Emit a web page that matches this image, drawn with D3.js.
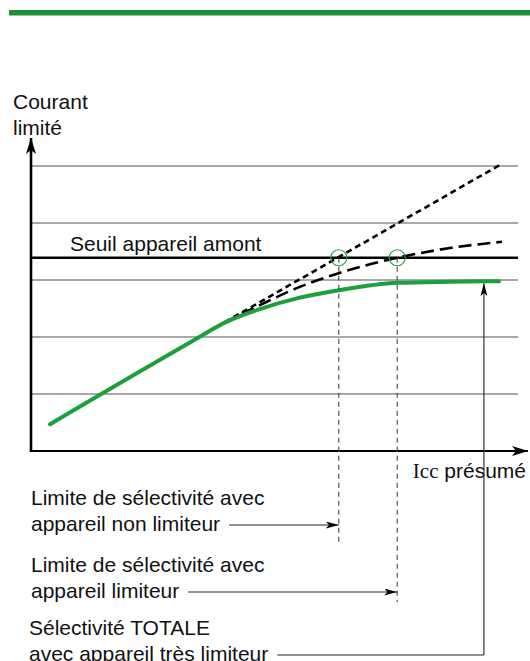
<!DOCTYPE html>
<html>
<head>
<meta charset="utf-8">
<script src="https://cdn.jsdelivr.net/npm/d3@7/dist/d3.min.js"></script>
<style>
body { margin: 0; background: #fff; }
svg text { font-family: "Liberation Sans", Arial, Helvetica, sans-serif; font-size: 21px; fill: #111; }
</style>
</head>
<body>
<div id="chart"></div>
<script>
/* data */
var gridLevels = [1, 2, 3, 4, 5];
var seuilLevel = 3.39;
var greenX = [0.39, 3.30, 4.00, 4.70, 5.52, 6.32, 7.52, 8.60, 9.61];
var greenY = [0.47, 1.92, 2.26, 2.49, 2.69, 2.82, 2.95, 2.97, 2.98];
var dashX = [3.98, 4.70, 5.52, 6.32, 7.52, 8.60, 9.67];
var dashY = [2.26, 2.56, 2.88, 3.12, 3.39, 3.56, 3.67];
var dotX = [3.98, 9.63];
var dotY = [2.26, 5.02];
var limitX = [6.32, 7.52, 9.30];
var limitLabels = [
    ["Limite de sélectivité avec", "appareil non limiteur"],
    ["Limite de sélectivité avec", "appareil limiteur"],
    ["Sélectivité TOTALE", "avec appareil très limiteur"]
];
var yTitle = ["Courant", "limité"];
var seuilLabel = "Seuil appareil amont";

var width = 530,
    height = 661,
    green = "#1ba03c";

var x = d3.scaleLinear().domain([0, 10]).range([31, 518]),
    y = d3.scaleLinear().domain([0, 5]).range([451, 166]);

var svg = d3.select("#chart").append("svg")
    .attr("width", width)
    .attr("height", height);

var defs = svg.append("defs");
function marker(id, w, h) {
    defs.append("marker")
        .attr("id", id)
        .attr("viewBox", "0 0 " + w + " " + h)
        .attr("refX", w).attr("refY", h / 2)
        .attr("markerWidth", w).attr("markerHeight", h)
        .attr("markerUnits", "userSpaceOnUse")
        .attr("orient", "auto")
        .append("path")
        .attr("d", "M0,0L" + w + "," + (h / 2) + "L0," + h + "L" + (w * 0.25) + "," + (h / 2) + "Z")
        .attr("fill", "#000");
}
marker("axisArrow", 16, 10);
marker("smallArrow", 13, 7);

// top green rule
svg.append("rect")
    .attr("x", 9).attr("y", 10)
    .attr("width", width - 9).attr("height", 5.5)
    .attr("fill", "#1f9037");

// grid
svg.selectAll("line.grid").data(gridLevels).enter().append("line")
    .attr("class", "grid")
    .attr("x1", x(0)).attr("x2", x(10))
    .attr("y1", function (d) { return y(d); })
    .attr("y2", function (d) { return y(d); })
    .attr("stroke", "#555").attr("stroke-width", 1.1);

// seuil line
svg.append("line")
    .attr("x1", x(0)).attr("x2", x(10))
    .attr("y1", y(seuilLevel)).attr("y2", y(seuilLevel))
    .attr("stroke", "#000").attr("stroke-width", 2.6);
svg.append("text")
    .attr("x", 70).attr("y", y(seuilLevel) - 7)
    .text(seuilLabel);

// axes
svg.append("line")
    .attr("x1", x(0)).attr("y1", y(0))
    .attr("x2", x(0)).attr("y2", 138)
    .attr("stroke", "#000").attr("stroke-width", 2.6)
    .attr("marker-end", "url(#axisArrow)");
svg.append("line")
    .attr("x1", x(0) - 1.3).attr("y1", y(0))
    .attr("x2", 528).attr("y2", y(0))
    .attr("stroke", "#000").attr("stroke-width", 2.2)
    .attr("marker-end", "url(#axisArrow)");

svg.append("text")
    .selectAll("tspan").data(yTitle).enter().append("tspan")
    .attr("x", 13)
    .attr("y", function (d, i) { return 109 + i * 26; })
    .text(function (d) { return d; });

var xlab = svg.append("text")
    .attr("x", 526).attr("y", 478)
    .attr("text-anchor", "end");
xlab.append("tspan")
    .style("font-family", "'Liberation Serif', 'Times New Roman', serif")
    .text("Icc");
xlab.append("tspan").text(" présumé");

// curves
var line = d3.line()
    .x(function (d) { return x(d[0]); })
    .y(function (d) { return y(d[1]); })
    .curve(d3.curveMonotoneX);

svg.append("path")
    .datum(dotX.map(function (v, i) { return [v, dotY[i]]; }))
    .attr("d", line)
    .attr("fill", "none").attr("stroke", "#000")
    .attr("stroke-width", 2.6).attr("stroke-dasharray", "6,4");

svg.append("path")
    .datum(dashX.map(function (v, i) { return [v, dashY[i]]; }))
    .attr("d", line)
    .attr("fill", "none").attr("stroke", "#000")
    .attr("stroke-width", 2.6).attr("stroke-dasharray", "13,6");

svg.append("path")
    .datum(greenX.map(function (v, i) { return [v, greenY[i]]; }))
    .attr("d", line)
    .attr("fill", "none").attr("stroke", green)
    .attr("stroke-width", 4).attr("stroke-linecap", "round");

// selectivity limits
var textBase = [505, 572, 635];
var arrowY = [525, 592, 655];
var dashBottom = [543, 602];

limitX.slice(0, 2).forEach(function (v, i) {
    svg.append("line")
        .attr("x1", x(v)).attr("x2", x(v))
        .attr("y1", y(seuilLevel)).attr("y2", dashBottom[i])
        .attr("stroke", "#555").attr("stroke-width", 1.2)
        .attr("stroke-dasharray", "5,4");
    svg.append("circle")
        .attr("cx", x(v)).attr("cy", y(seuilLevel)).attr("r", 8)
        .attr("fill", "none").attr("stroke", green).attr("stroke-width", 1.2);
});

limitLabels.forEach(function (lab, i) {
    var t = svg.append("text");
    t.selectAll("tspan").data(lab).enter().append("tspan")
        .attr("x", i == 2 ? 29 : 31)
        .attr("y", function (d, j) { return textBase[i] + j * 25.5; })
        .text(function (d) { return d; });
    var last = t.selectAll("tspan").nodes()[1];
    var start = (i == 2 ? 29 : 31) + last.getComputedTextLength() + 9;
    var l = svg.append("line")
        .attr("x1", start).attr("x2", x(limitX[i]))
        .attr("y1", arrowY[i]).attr("y2", arrowY[i])
        .attr("stroke", "#222").attr("stroke-width", 1.2);
    if (i < 2) l.attr("marker-end", "url(#smallArrow)");
});

// very limiting device: vertical with arrow up to the green curve
svg.append("line")
    .attr("x1", x(limitX[2])).attr("x2", x(limitX[2]))
    .attr("y1", arrowY[2]).attr("y2", y(2.98) + 2)
    .attr("stroke", "#333").attr("stroke-width", 1.2)
    .attr("marker-end", "url(#smallArrow)");
</script>
</body>
</html>
